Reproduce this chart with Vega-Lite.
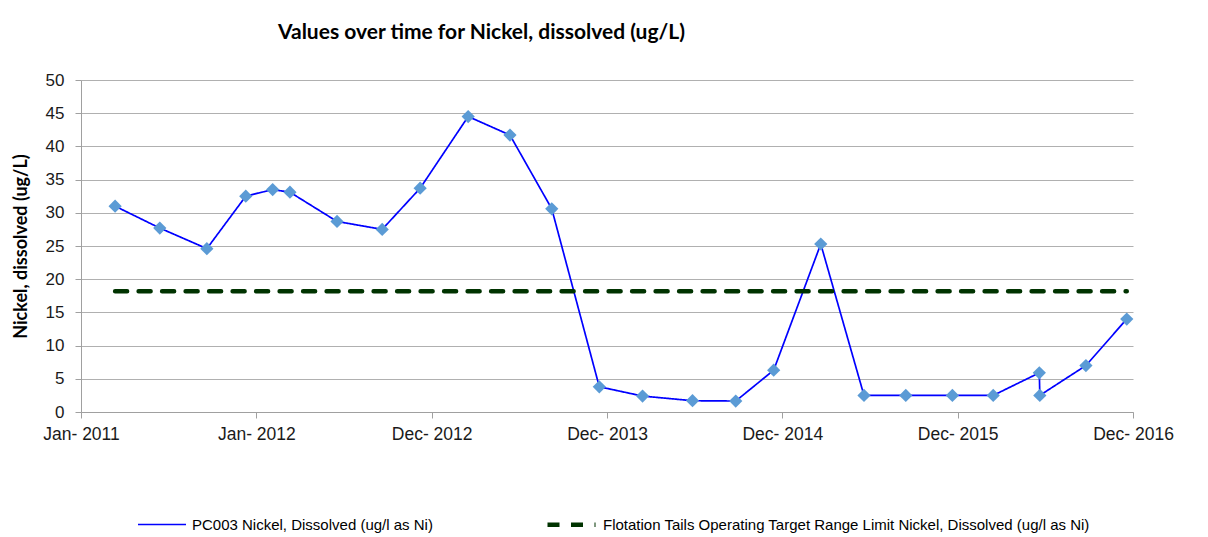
{
  "$schema": "https://vega.github.io/schema/vega-lite/v6.json",
  "width": 1052,
  "height": 332,
  "autosize": "none",
  "padding": {"left": 81, "top": 80, "right": 75, "bottom": 125},
  "background": "white",
  "title": {
    "text": "Values over time for Nickel, dissolved (ug/L)",
    "anchor": "start",
    "frame": "group",
    "dx": 197,
    "offset": 28,
    "font": "Lato",
    "fontSize": 21,
    "fontWeight": "bold",
    "color": "#000000"
  },
  "data": {
    "values": [
      {"date": "2011-03-13", "value": 31.0, "series": "PC003 Nickel, Dissolved (ug/l as Ni)"},
      {"date": "2011-06-14", "value": 27.7, "series": "PC003 Nickel, Dissolved (ug/l as Ni)"},
      {"date": "2011-09-20", "value": 24.6, "series": "PC003 Nickel, Dissolved (ug/l as Ni)"},
      {"date": "2011-12-10", "value": 32.5, "series": "PC003 Nickel, Dissolved (ug/l as Ni)"},
      {"date": "2012-02-04", "value": 33.5, "series": "PC003 Nickel, Dissolved (ug/l as Ni)"},
      {"date": "2012-03-11", "value": 33.1, "series": "PC003 Nickel, Dissolved (ug/l as Ni)"},
      {"date": "2012-06-17", "value": 28.7, "series": "PC003 Nickel, Dissolved (ug/l as Ni)"},
      {"date": "2012-09-19", "value": 27.5, "series": "PC003 Nickel, Dissolved (ug/l as Ni)"},
      {"date": "2012-12-07", "value": 33.7, "series": "PC003 Nickel, Dissolved (ug/l as Ni)"},
      {"date": "2013-03-17", "value": 44.5, "series": "PC003 Nickel, Dissolved (ug/l as Ni)"},
      {"date": "2013-06-12", "value": 41.7, "series": "PC003 Nickel, Dissolved (ug/l as Ni)"},
      {"date": "2013-09-07", "value": 30.6, "series": "PC003 Nickel, Dissolved (ug/l as Ni)"},
      {"date": "2013-12-15", "value": 3.8, "series": "PC003 Nickel, Dissolved (ug/l as Ni)"},
      {"date": "2014-03-15", "value": 2.4, "series": "PC003 Nickel, Dissolved (ug/l as Ni)"},
      {"date": "2014-06-27", "value": 1.7, "series": "PC003 Nickel, Dissolved (ug/l as Ni)"},
      {"date": "2014-09-25", "value": 1.65, "series": "PC003 Nickel, Dissolved (ug/l as Ni)"},
      {"date": "2014-12-13", "value": 6.3, "series": "PC003 Nickel, Dissolved (ug/l as Ni)"},
      {"date": "2015-03-21", "value": 25.3, "series": "PC003 Nickel, Dissolved (ug/l as Ni)"},
      {"date": "2015-06-19", "value": 2.5, "series": "PC003 Nickel, Dissolved (ug/l as Ni)"},
      {"date": "2015-09-14", "value": 2.5, "series": "PC003 Nickel, Dissolved (ug/l as Ni)"},
      {"date": "2015-12-20", "value": 2.5, "series": "PC003 Nickel, Dissolved (ug/l as Ni)"},
      {"date": "2016-03-14", "value": 2.5, "series": "PC003 Nickel, Dissolved (ug/l as Ni)"},
      {"date": "2016-06-18", "value": 5.9, "series": "PC003 Nickel, Dissolved (ug/l as Ni)"},
      {"date": "2016-06-19", "value": 2.5, "series": "PC003 Nickel, Dissolved (ug/l as Ni)"},
      {"date": "2016-09-23", "value": 7.0, "series": "PC003 Nickel, Dissolved (ug/l as Ni)"},
      {"date": "2016-12-17", "value": 14.0, "series": "PC003 Nickel, Dissolved (ug/l as Ni)"},
      {"date": "2011-03-13", "value": 18.2, "series": "Flotation Tails Operating Target Range Limit Nickel, Dissolved (ug/l as Ni)"},
      {"date": "2016-12-17", "value": 18.2, "series": "Flotation Tails Operating Target Range Limit Nickel, Dissolved (ug/l as Ni)"}
    ]
  },
  "encoding": {
    "x": {
      "field": "date",
      "type": "temporal",
      "scale": {
        "type": "utc",
        "domain": [
          {"year": 2011, "month": 1, "date": 1, "utc": true},
          {"year": 2016, "month": 12, "date": 30, "utc": true}
        ]
      },
      "axis": {
        "title": null,
        "values": [
          {"year": 2011, "month": 1, "date": 1, "utc": true},
          {"year": 2012, "month": 1, "date": 1, "utc": true},
          {"year": 2012, "month": 12, "date": 31, "utc": true},
          {"year": 2013, "month": 12, "date": 31, "utc": true},
          {"year": 2014, "month": 12, "date": 31, "utc": true},
          {"year": 2015, "month": 12, "date": 31, "utc": true},
          {"year": 2016, "month": 12, "date": 30, "utc": true}
        ],
        "format": "%b- %Y",
        "grid": false,
        "labelFont": "Liberation Sans",
        "labelFontSize": 17.5,
        "labelColor": "#1a1a1a",
        "labelPadding": 7,
        "labelFlush": false,
        "labelOverlap": false,
        "tickSize": 6,
        "tickColor": "#a0a0a0",
        "domainColor": "#a0a0a0",
        "domainWidth": 1
      }
    },
    "y": {
      "field": "value",
      "type": "quantitative",
      "scale": {"domain": [0, 50], "nice": false, "zero": true},
      "axis": {
        "title": "Nickel, dissolved (ug/L)",
        "titleFont": "Lato",
        "titleFontSize": 18,
        "titleFontWeight": "bold",
        "titleColor": "#000000",
        "titlePadding": 15,
        "values": [0, 5, 10, 15, 20, 25, 30, 35, 40, 45, 50],
        "labelFont": "Liberation Sans",
        "labelFontSize": 17,
        "labelColor": "#1a1a1a",
        "labelPadding": 11,
        "tickSize": 6,
        "tickColor": "#a0a0a0",
        "domainColor": "#a0a0a0",
        "grid": true,
        "gridColor": "#b0b0b0",
        "gridWidth": 1
      }
    }
  },
  "layer": [
    {
      "mark": {"type": "line", "strokeCap": "round"},
      "encoding": {
        "color": {
          "field": "series",
          "type": "nominal",
          "scale": {
            "domain": ["PC003 Nickel, Dissolved (ug/l as Ni)", "Flotation Tails Operating Target Range Limit Nickel, Dissolved (ug/l as Ni)"],
            "range": ["#0000ff", "#003300"]
          },
          "legend": {
            "title": null,
            "orient": "none",
            "legendX": 56,
            "legendY": 418,
            "direction": "horizontal",
            "symbolType": "stroke",
            "symbolSize": 2304,
            "columnPadding": 105,
            "labelFont": "Liberation Sans",
            "labelFontSize": 15,
            "labelColor": "#000000",
            "labelOffset": 5,
            "labelLimit": 0
          }
        },
        "strokeDash": {
          "field": "series",
          "type": "nominal",
          "scale": {
            "domain": ["PC003 Nickel, Dissolved (ug/l as Ni)", "Flotation Tails Operating Target Range Limit Nickel, Dissolved (ug/l as Ni)"],
            "range": [[1, 0], [12, 11.5]]
          },
          "legend": {
            "title": null,
            "orient": "none",
            "legendX": 56,
            "legendY": 418,
            "direction": "horizontal",
            "symbolType": "stroke",
            "symbolSize": 2304,
            "columnPadding": 105,
            "labelFont": "Liberation Sans",
            "labelFontSize": 15,
            "labelColor": "#000000",
            "labelOffset": 5,
            "labelLimit": 0
          }
        },
        "strokeWidth": {
          "field": "series",
          "type": "nominal",
          "scale": {
            "domain": ["PC003 Nickel, Dissolved (ug/l as Ni)", "Flotation Tails Operating Target Range Limit Nickel, Dissolved (ug/l as Ni)"],
            "range": [1.7, 4.5]
          },
          "legend": {
            "title": null,
            "orient": "none",
            "legendX": 56,
            "legendY": 418,
            "direction": "horizontal",
            "symbolType": "stroke",
            "symbolSize": 2304,
            "columnPadding": 105,
            "labelFont": "Liberation Sans",
            "labelFontSize": 15,
            "labelColor": "#000000",
            "labelOffset": 5,
            "labelLimit": 0
          }
        }
      }
    },
    {
      "transform": [{"filter": {"field": "series", "equal": "PC003 Nickel, Dissolved (ug/l as Ni)"}}],
      "mark": {"type": "point", "shape": "diamond", "filled": true, "size": 175, "color": "#5b9bd5", "opacity": 1}
    }
  ],
  "config": {
    "view": {"stroke": null},
    "axis": {"labelAngle": 0}
  }
}
